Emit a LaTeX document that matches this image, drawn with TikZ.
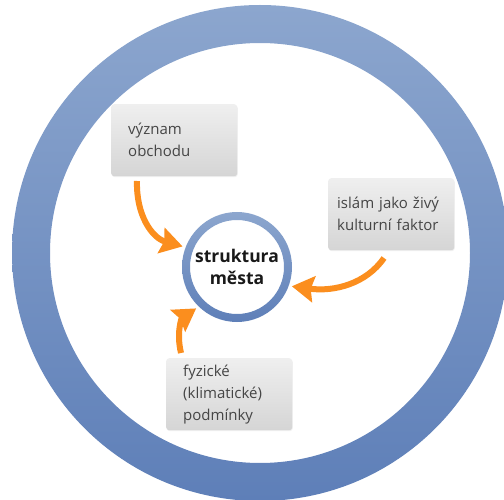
\documentclass[tikz,border=0pt]{standalone}
\usepackage{fontspec}
\setmainfont{Open Sans}
\usetikzlibrary{arrows.meta,positioning,shadows}
\definecolor{ringtop}{HTML}{8CA6CE}
\definecolor{ringbot}{HTML}{5E7FB8}
\definecolor{boxtop}{HTML}{EFEFEF}
\definecolor{boxbot}{HTML}{D5D5D5}
\definecolor{boxtext}{HTML}{454545}
\definecolor{arroworange}{HTML}{FB8E1E}
\tikzset{
  factor/.style={rectangle, rounded corners=3pt, top color=boxtop, bottom color=boxbot,
    minimum width=126pt, minimum height=72pt, inner ysep=0pt, align=left,
    text=boxtext, font=\fontsize{15}{22}\selectfont, anchor=north west,
    drop shadow={opacity=0.12, shadow xshift=0.6pt, shadow yshift=-1pt}},
  influence/.style={draw=arroworange, line width=6pt, shorten >=3pt,
    -{Stealth[length=22pt, width=26pt, inset=3pt]}}
}
\begin{document}
\begin{tikzpicture}[x=1pt, y=-1pt]
  \useasboundingbox (0,0) rectangle (504,500);
  % big ring
  \coordinate (C) at (260,253);
  \shade[top color=ringtop, bottom color=ringbot, even odd rule]
    (C) circle (248pt) (C) circle (210pt);
  % centre
  \node[circle, minimum size=110pt, inner sep=0pt, align=center,
        font=\fontsize{17.5}{23}\bfseries\selectfont, text=black!90] (mesto) at (237,267)
        {struktura\\[-1pt]města};
  \shade[top color=ringtop, bottom color=ringbot, even odd rule]
    (mesto.center) circle (55pt) (mesto.center) circle (47pt);
  % factors
  \node[factor, inner xsep=17pt, text width=92pt] (obchod) at (111,104)
        {význam\\obchodu};
  \node[factor, inner xsep=9pt, text width=108pt] (islam) at (328,178)
        {islám jako živý\\kulturní faktor};
  \node[factor, inner xsep=17pt, text width=92pt] (klima) at (166,358)
        {fyzické\\(klimatické)\\podmínky};
  \coordinate (s1) at (137,181);
  \coordinate (s2) at (384,258);
  \coordinate (s3) at (181,353);
  \draw[influence] (s1) .. controls (136,215) and (152,238) .. (mesto.159);
  \draw[influence] (s2) .. controls (366,284) and (334,292) .. (mesto.-20);
  \draw[influence] (s3) .. controls (176,332) and (182,318) .. (mesto.-134);
\end{tikzpicture}
\end{document}
